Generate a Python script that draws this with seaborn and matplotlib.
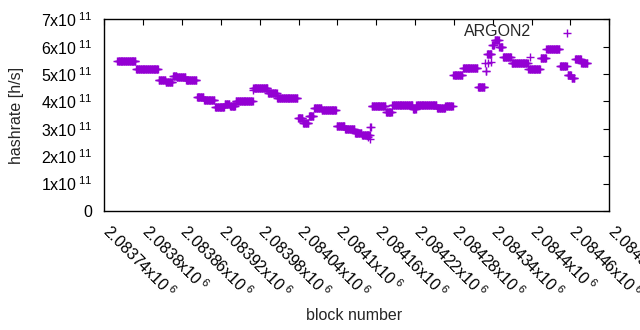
import matplotlib
matplotlib.use("Agg")
import numpy as np
import pandas as pd
import matplotlib.pyplot as plt
import seaborn as sns
from matplotlib.ticker import FuncFormatter, MultipleLocator
from matplotlib.transforms import ScaledTranslation

# hashrate runs: each value holds from its start block up to the next start block
run_start = [2083760, 2083789, 2083824, 2083835, 2083846, 2083852, 2083866, 2083883,
             2083894, 2083911, 2083926, 2083934, 2083943, 2083970, 2083993, 2084007,
             2084039, 2084047, 2084056, 2084064, 2084076, 2084099, 2084112, 2084127,
             2084138, 2084151, 2084153, 2084175, 2084185, 2084217, 2084222, 2084254,
             2084267, 2084279, 2084294, 2084317, 2084328, 2084329, 2084331, 2084339,
             2084343, 2084350, 2084356, 2084369, 2084395, 2084414, 2084423, 2084444,
             2084455, 2084456, 2084462, 2084467, 2084477]
run_end = 2084487
run_value = [5.46, 5.17, 4.77, 4.70, 4.94, 4.88, 4.77, 4.15,
             4.04, 3.78, 3.92, 3.83, 4.03, 4.50, 4.30, 4.11,
             3.38, 3.20, 3.47, 3.75, 3.69, 3.10, 3.00, 2.86,
             2.77, 3.05, 3.83, 3.60, 3.86, 3.72, 3.86, 3.75,
             3.83, 4.96, 5.21, 4.54, 5.39, 5.12, 5.72, 6.06,
             6.25, 5.98, 5.61, 5.39, 5.17, 5.57, 5.90, 5.29,
             6.51, 4.96, 4.84, 5.54, 5.39]

# a few stray estimates around the steps
extra_block = [2083969, 2084148, 2084150, 2084333, 2084337, 2084398]
extra_value = [4.42, 2.70, 2.62, 5.39, 5.45, 5.62]

blocks, values = [], []
ends = run_start[1:] + [run_end]
for s, e, v in zip(run_start, ends, run_value):
    for b in range(s, e):
        blocks.append(b)
        values.append(v * 1e11)
blocks += extra_block
values += [v * 1e11 for v in extra_value]
df = pd.DataFrame({"block": blocks, "hashrate": values})

sns.set_style("white")
plt.rcParams["font.family"] = ["Liberation Sans", "DejaVu Sans"]
plt.rcParams["mathtext.fontset"] = "custom"
plt.rcParams["mathtext.rm"] = "Liberation Sans"
plt.rcParams["mathtext.it"] = "Liberation Sans"
plt.rcParams["mathtext.default"] = "rm"

fig = plt.figure(figsize=(6.4, 3.3), dpi=100)
ax = fig.add_axes([0.163, 0.3606, 0.789, 0.581])

sns.scatterplot(data=df, x="block", y="hashrate", marker="+", color="#9400d3",
                s=30, linewidth=1.0, ax=ax, legend=False)

ax.set_xlim(2083740, 2084520)
ax.set_ylim(0, 7e11)
ax.xaxis.set_major_locator(MultipleLocator(60))
ax.yaxis.set_major_locator(MultipleLocator(1e11))
ax.xaxis.set_major_formatter(FuncFormatter(lambda v, p: f"{v / 1e6:g}x10$\\,^{{6}}$"))
ax.yaxis.set_major_formatter(FuncFormatter(
    lambda v, p: "0" if v == 0 else f"{int(round(v / 1e11))}x10$\\,^{{11}}$"))

ax.tick_params(direction="in", length=4, width=0.8, top=True, right=True,
               labelsize=11.5, colors="black")
ax.tick_params(axis="y", pad=9)
ax.tick_params(axis="x", pad=7)
shift = ScaledTranslation(8 / 100, -1 / 100, fig.dpi_scale_trans)
for tick in ax.xaxis.get_major_ticks():
    lbl = tick.label1
    lbl.set_rotation(-45)
    lbl.set_ha("left")
    lbl.set_va("top")
    lbl.set_rotation_mode("anchor")
    lbl.set_transform(lbl.get_transform() + shift)
for sp in ax.spines.values():
    sp.set_color("black")
    sp.set_linewidth(1.0)

ax.set_xlabel("")
ax.set_ylabel("")
fig.text(0.026, 1 - 115 / 330, "hashrate [h/s]", rotation=90, ha="center",
         va="center", fontsize=11.5)
fig.text(354 / 640, 1 - 315 / 330, "block number", ha="center", va="center",
         fontsize=11.5)
fig.text(531 / 640, 1 - 32 / 330, "ARGON2", ha="right", va="center", fontsize=11.5)

fig.savefig("out.png", dpi=100)
